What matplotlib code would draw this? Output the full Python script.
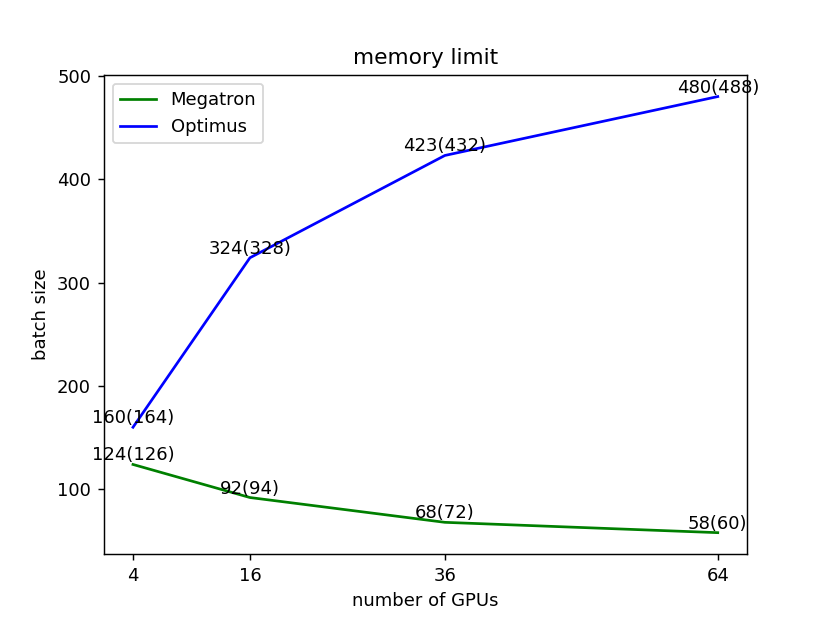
import matplotlib
matplotlib.use("Agg")
import matplotlib.pyplot as plt

gpus = [4, 16, 36, 64]
megatron = [124, 92, 68, 58]
megatron_labels = ["124(126)", "92(94)", "68(72)", "58(60)"]
optimus = [160, 324, 423, 480]
optimus_labels = ["160(164)", "324(328)", "423(432)", "480(488)"]

fig, ax = plt.subplots(figsize=(830 / 130, 623 / 130), dpi=130)
ax.plot(gpus, megatron, color="green", label="Megatron")
ax.plot(gpus, optimus, color="blue", label="Optimus")

for x, y, s in zip(gpus, megatron, megatron_labels):
    ax.text(x, y, s, ha="center", va="bottom")
for x, y, s in zip(gpus, optimus, optimus_labels):
    ax.text(x, y, s, ha="center", va="bottom")

ax.set_xticks(gpus)
ax.set_xlabel("number of GPUs")
ax.set_ylabel("batch size")
ax.set_title("memory limit")
ax.legend(loc="upper left")

fig.savefig("out.png", dpi=130)
